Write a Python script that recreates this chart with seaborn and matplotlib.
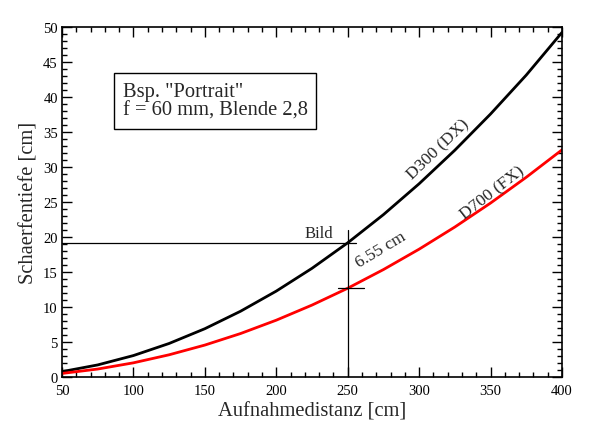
import matplotlib
matplotlib.use('Agg')
import matplotlib.pyplot as plt
from matplotlib.ticker import MultipleLocator
import seaborn as sns
import pandas as pd

# Aufnahmedistanz [cm] and Schaerfentiefe [cm]
distanz = [50, 75, 100, 125, 150, 175, 200, 225, 250, 275, 300, 325, 350, 375, 400]
d300_dx = [0.77, 1.73, 3.07, 4.8, 6.91, 9.41, 12.29, 15.55, 19.2, 23.23, 27.65, 32.45, 37.63, 43.2, 49.3]
d700_fx = [0.51, 1.14, 2.03, 3.18, 4.57, 6.22, 8.13, 10.29, 12.7, 15.37, 18.29, 21.46, 24.89, 28.58, 32.5]
bild_distanz = 250
differenz_text = "6.55 cm"

sns.set_style("ticks")
plt.rcParams['font.family'] = ['Liberation Serif', 'DejaVu Serif']

df = pd.DataFrame({
    "distanz": distanz * 2,
    "tiefe": d300_dx + d700_fx,
    "kamera": ["D300 (DX)"] * len(distanz) + ["D700 (FX)"] * len(distanz),
})

fig = plt.figure(figsize=(6, 4.35), dpi=100)
ax = fig.add_axes([0.1033, 0.131, 0.8334, 0.8035])

sns.lineplot(data=df, x="distanz", y="tiefe", hue="kamera",
             palette={"D300 (DX)": "black", "D700 (FX)": "red"},
             linewidth=2, legend=False, ax=ax)

ax.set_xlim(50, 400)
ax.set_ylim(0, 50)
ax.xaxis.set_major_locator(MultipleLocator(50))
ax.xaxis.set_minor_locator(MultipleLocator(10))
ax.yaxis.set_major_locator(MultipleLocator(5))
ax.yaxis.set_minor_locator(MultipleLocator(1))
ax.tick_params(which="both", direction="in", top=True, right=True,
               colors="black", labelsize=10.5, width=1)
ax.tick_params(which="major", length=7.5)
ax.tick_params(which="minor", length=3.6)
ax.tick_params(axis="x", which="major", pad=5)
ax.tick_params(axis="y", which="major", pad=3)
for sp in ax.spines.values():
    sp.set_linewidth(1.2)
    sp.set_color("black")

ax.set_xlabel("Aufnahmedistanz [cm]", fontsize=14.8, labelpad=3)
ax.set_ylabel("Schaerfentiefe [cm]", fontsize=14.8, labelpad=3)

# markings at the "Bild" distance
i = distanz.index(bild_distanz)
y_dx = d300_dx[i]
y_fx = d700_fx[i]
ax.plot([50, bild_distanz + 6], [y_dx, y_dx], color="black", lw=0.9)
ax.plot([bild_distanz, bild_distanz], [0, y_dx + 1.8], color="black", lw=0.9)
ax.plot([bild_distanz - 6.5, bild_distanz + 11.5], [y_fx, y_fx], color="black", lw=0.9)
ax.text(bild_distanz - 10, y_dx + 0.2, "Bild", fontsize=12, ha="right", va="bottom")
ax.text(bild_distanz + 9, y_fx + 2.6, differenz_text, fontsize=12.5,
        rotation=31, ha="left", va="bottom", rotation_mode="anchor")

ax.text(297, 27.9, "D300 (DX)", fontsize=12.5, rotation=44,
        ha="left", va="bottom", rotation_mode="anchor")
ax.text(334, 22.2, "D700 (FX)", fontsize=12.5, rotation=38,
        ha="left", va="bottom", rotation_mode="anchor")

ax.text(92.5, 39.5, 'Bsp. "Portrait"\nf = 60 mm, Blende 2,8', fontsize=14.8,
        va="center", ha="left", linespacing=1.0,
        bbox=dict(boxstyle="square,pad=0.42", fc="white", ec="black", lw=1))

fig.savefig("out.png", dpi=100)
